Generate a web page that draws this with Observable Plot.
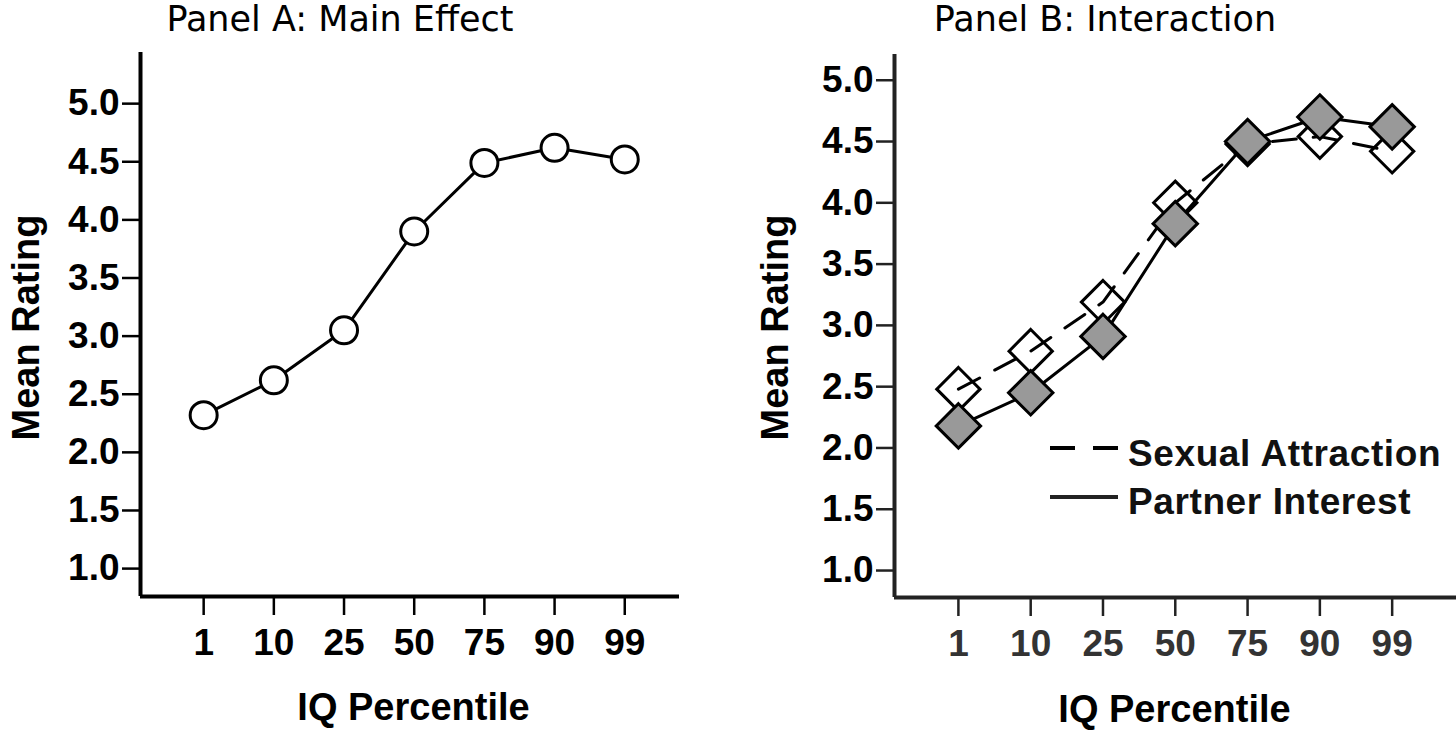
<!DOCTYPE html>
<html>
<head>
<meta charset="utf-8">
<script src="https://cdn.jsdelivr.net/npm/d3@7"></script>
<script src="https://cdn.jsdelivr.net/npm/@observablehq/plot@0.6"></script>
<style>
  body { margin: 0; background: white; }
  #wrap { position: relative; width: 1456px; height: 734px; overflow: hidden; background: white; }
  .title { position: absolute; top: 1px; font-family: "DejaVu Sans", Verdana, sans-serif; font-size: 35px; line-height: 36px; text-align: center; color: #000; white-space: nowrap; }
  .panel { position: absolute; top: 40px; }
  #legend { position: absolute; left: 1040px; top: 420px; }
</style>
</head>
<body>
<div id="wrap">
  <div class="title" style="left:0px;width:680px">Panel A: Main Effect</div>
  <div class="title" style="left:752px;width:706px">Panel B: Interaction</div>
  <div id="panelA" class="panel" style="left:0px"></div>
  <div id="panelB" class="panel" style="left:728px"></div>
  <svg id="legend" width="416" height="100">
    <line x1="10" x2="78" y1="28" y2="28" stroke="#000" stroke-width="4" stroke-dasharray="25,18"></line>
    <text x="88" y="33" dominant-baseline="central" font-family="Liberation Sans, Arial, sans-serif" font-weight="bold" font-size="37" letter-spacing="0.6" fill="#111">Sexual Attraction</text>
    <line x1="10" x2="78" y1="77" y2="77" stroke="#222" stroke-width="4"></line>
    <text x="88" y="81" dominant-baseline="central" font-family="Liberation Sans, Arial, sans-serif" font-weight="bold" font-size="37" letter-spacing="0.6" fill="#111">Partner Interest</text>
  </svg>
</div>
<script>
// ---- data ----
const categories = ["1", "10", "25", "50", "75", "90", "99"];
const mainEffect = [2.32, 2.62, 3.05, 3.90, 4.49, 4.62, 4.52];
const sexualAttraction = [2.48, 2.79, 3.19, 4.00, 4.48, 4.54, 4.42];
const partnerInterest = [2.18, 2.45, 2.91, 3.83, 4.50, 4.70, 4.62];
const yTicks = [1.0, 1.5, 2.0, 2.5, 3.0, 3.5, 4.0, 4.5, 5.0];
const yLabel = "Mean Rating";
const xLabel = "IQ Percentile";

const idx = categories.map((c, i) => i);
const rowsA = categories.map((c, i) => ({i, c, v: mainEffect[i]}));
const rowsSA = categories.map((c, i) => ({i, c, v: sexualAttraction[i]}));
const rowsPI = categories.map((c, i) => ({i, c, v: partnerInterest[i]}));

const bold = {fontSize: 37, fontWeight: "bold"};
const font = "Liberation Sans, Arial, sans-serif";

function axes(xDom, yDom, axisColor, xTickColor, lab) {
  return [
    Plot.axisY(yTicks, {tickSize: 18, tickPadding: 3, tickFormat: d => d.toFixed(1), ...bold, fill: "#000", stroke: axisColor, strokeWidth: 2.5, label: null}),
    Plot.axisX(idx, {tickSize: 19, tickPadding: 13, tickFormat: i => categories[i], ...bold, fill: xTickColor, stroke: axisColor, strokeWidth: 2.5, label: null}),
    Plot.ruleX([xDom[0]], {stroke: axisColor, strokeWidth: 4}),
    Plot.ruleY([yDom[0]], {stroke: axisColor, strokeWidth: 4}),
    Plot.text([yLabel], {frameAnchor: "left", dx: lab.ydx, dy: lab.ydy, rotate: -90, textAnchor: "middle", lineAnchor: "middle", fontSize: 38, fontWeight: "bold", fill: "#000"}),
    Plot.text([xLabel], {frameAnchor: "bottom", dx: lab.xdx, dy: lab.xdy, textAnchor: "middle", lineAnchor: "middle", fontSize: 38, fontWeight: "bold", fill: "#000"})
  ];
}

// Panel A
const xDomA = [-0.9, 6.78], yDomA = [0.76, 5.44];
const chartA = Plot.plot({
  width: 728, height: 694,
  marginLeft: 140, marginRight: 49, marginTop: 12, marginBottom: 138,
  style: {fontFamily: font, background: "white", overflow: "visible"},
  x: {type: "linear", domain: xDomA},
  y: {domain: yDomA},
  marks: [
    ...axes(xDomA, yDomA, "#000", "#000", {ydx: -114, ydy: 3, xdx: 3.5, xdy: 111}),
    Plot.line(rowsA, {x: "i", y: "v", stroke: "#000", strokeWidth: 3}),
    Plot.dot(rowsA, {x: "i", y: "v", r: 13.5, stroke: "#000", strokeWidth: 3, fill: "white"})
  ]
});
document.getElementById("panelA").appendChild(chartA);

// Panel B
const xDomB = [-0.884, 6.89], yDomB = [0.78, 5.21];
const chartB = Plot.plot({
  width: 728, height: 694,
  marginLeft: 166, marginRight: 0, marginTop: 14, marginBottom: 137,
  style: {fontFamily: font, background: "white", overflow: "visible"},
  x: {type: "linear", domain: xDomB},
  y: {domain: yDomB},
  marks: [
    ...axes(xDomB, yDomB, "#222", "#333", {ydx: -119, ydy: 1.5, xdx: -1, xdy: 112}),
    Plot.dot(rowsSA, {x: "i", y: "v", symbol: "diamond2", r: 19.5, stroke: "#000", strokeWidth: 3, fill: "white"}),
    Plot.line(rowsSA, {x: "i", y: "v", stroke: "#000", strokeWidth: 3, strokeDasharray: "24,17"}),
    Plot.line(rowsPI, {x: "i", y: "v", stroke: "#000", strokeWidth: 3}),
    Plot.dot(rowsPI, {x: "i", y: "v", symbol: "diamond2", r: 20, stroke: "#000", strokeWidth: 3, fill: "#999999"})
  ]
});
document.getElementById("panelB").appendChild(chartB);
</script>
</body>
</html>
